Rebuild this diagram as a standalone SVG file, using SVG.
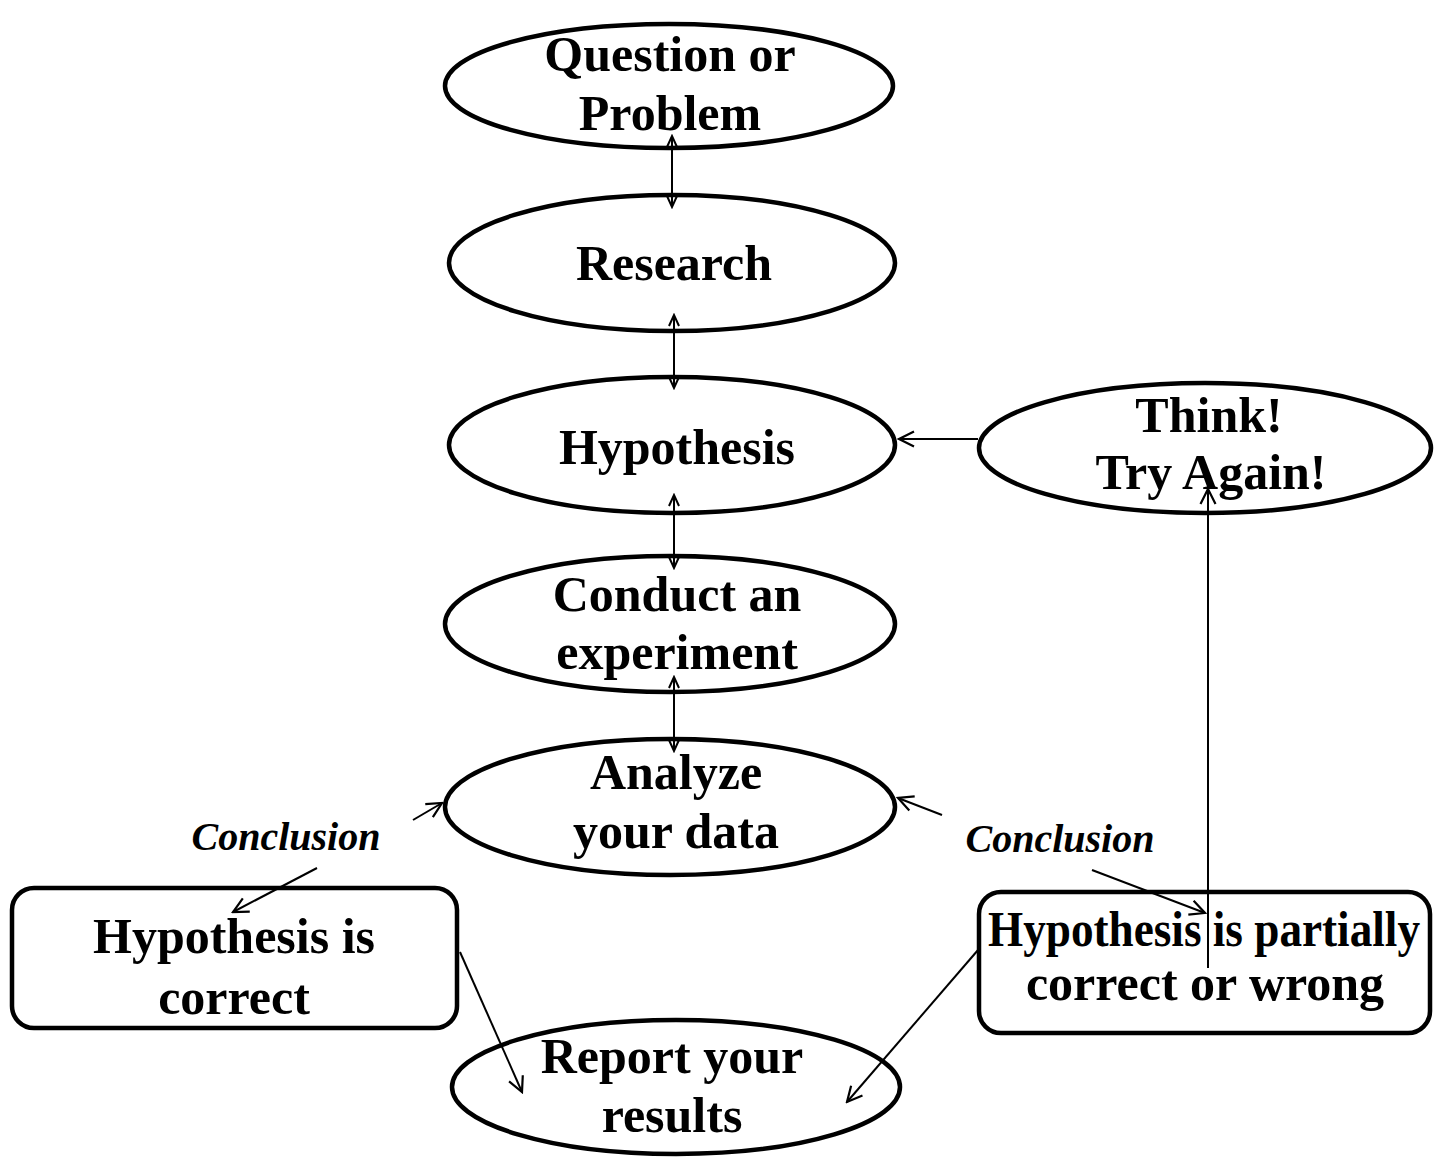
<svg xmlns="http://www.w3.org/2000/svg" width="1444" height="1158" viewBox="0 0 1444 1158">
<style>
.node{fill:#fff;stroke:#000;stroke-width:4.5}
.t{font-family:"Liberation Serif","Times New Roman",serif;font-weight:bold;font-size:50px;text-anchor:middle;fill:#000}
.c{font-family:"Liberation Serif","Times New Roman",serif;font-weight:bold;font-style:italic;font-size:40px;text-anchor:middle;fill:#000}
.e{fill:none;stroke:#000;stroke-width:2}
</style>
<defs>
<marker id="ah" viewBox="-18 -10 20 20" markerWidth="20" markerHeight="20" refX="0" refY="0" orient="auto-start-reverse" markerUnits="userSpaceOnUse"><path d="M-15,-7.5 L0,0 L-15,7.5" fill="none" stroke="#000" stroke-width="2.2"/></marker>
<marker id="as" viewBox="-13 -7 15 14" markerWidth="15" markerHeight="14" refX="0" refY="0" orient="auto-start-reverse" markerUnits="userSpaceOnUse"><path d="M-11,-5 L0,0 L-11,5" fill="none" stroke="#000" stroke-width="2"/></marker>
</defs>
<rect width="1444" height="1158" fill="#fff"/>
<g id="n-question"><ellipse class="node" cx="669" cy="86" rx="224" ry="62"/><text class="t" x="670" y="71">Question or</text><text class="t" x="670" y="130">Problem</text></g>
<g id="n-research"><ellipse class="node" cx="672" cy="263" rx="223" ry="68"/><text class="t" x="674" y="280">Research</text></g>
<g id="n-hypothesis"><ellipse class="node" cx="672" cy="445" rx="223" ry="68"/><text class="t" x="677" y="464">Hypothesis</text></g>
<g id="n-think"><ellipse class="node" cx="1205" cy="448" rx="226" ry="65"/><text class="t" x="1209" y="432">Think!</text><text class="t" x="1211" y="489">Try Again!</text></g>
<g id="n-conduct"><ellipse class="node" cx="670" cy="624" rx="225" ry="68"/><text class="t" x="677" y="611">Conduct an</text><text class="t" x="677" y="669">experiment</text></g>
<g id="n-analyze"><ellipse class="node" cx="670" cy="807" rx="225" ry="68"/><text class="t" x="676" y="789">Analyze</text><text class="t" x="676" y="848">your data</text></g>
<g id="n-correct"><rect class="node" x="12" y="888" width="445" height="140" rx="22"/><text class="t" x="234" y="953">Hypothesis is</text><text class="t" x="234" y="1014">correct</text></g>
<g id="n-wrong"><rect class="node" x="979" y="892" width="451" height="141" rx="22"/><text class="t" x="1204" y="946" font-size="46" textLength="432" lengthAdjust="spacingAndGlyphs">Hypothesis is partially</text><text class="t" x="1205" y="1000" font-size="46">correct or wrong</text></g>
<g id="n-report"><ellipse class="node" cx="676" cy="1087" rx="224" ry="67"/><text class="t" x="672" y="1073">Report your</text><text class="t" x="672" y="1132">results</text></g>
<g id="labels"><text class="c" x="286" y="850">Conclusion</text><text class="c" x="1060" y="852">Conclusion</text></g>
<g id="connectors">
<line class="e" x1="672" y1="136" x2="672" y2="207" marker-start="url(#as)" marker-end="url(#as)"/>
<line class="e" x1="674" y1="315" x2="674" y2="388" marker-start="url(#as)" marker-end="url(#as)"/>
<line class="e" x1="674" y1="495" x2="674" y2="568" marker-start="url(#as)" marker-end="url(#as)"/>
<line class="e" x1="674" y1="677" x2="674" y2="751" marker-start="url(#as)" marker-end="url(#as)"/>
<line class="e" x1="978" y1="439" x2="899" y2="439" marker-end="url(#ah)"/>
<line class="e" x1="413" y1="820" x2="442" y2="803" marker-end="url(#ah)"/>
<line class="e" x1="317" y1="868" x2="233" y2="912" marker-end="url(#ah)"/>
<line class="e" x1="942" y1="815" x2="898" y2="798" marker-end="url(#ah)"/>
<line class="e" x1="1092" y1="870" x2="1205" y2="913" marker-end="url(#ah)"/>
<line class="e" x1="460" y1="952" x2="522" y2="1092" marker-end="url(#ah)"/>
<line class="e" x1="978" y1="950" x2="847" y2="1102" marker-end="url(#ah)"/>
<line class="e" x1="1208" y1="968" x2="1208" y2="489" marker-end="url(#ah)"/>
</g>
</svg>
